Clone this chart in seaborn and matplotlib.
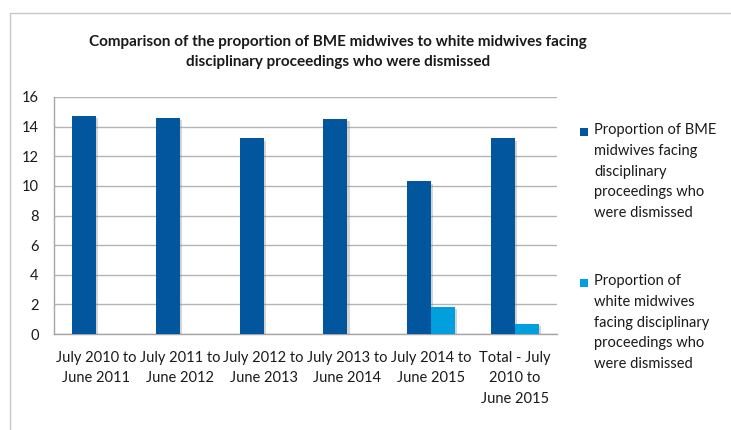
import matplotlib
matplotlib.use("Agg")
import matplotlib.pyplot as plt
import matplotlib.patheffects as pe
from matplotlib.patches import Rectangle
import pandas as pd
import seaborn as sns

periods = [
    "July 2010 to\nJune 2011",
    "July 2011 to\nJune 2012",
    "July 2012 to\nJune 2013",
    "July 2013 to\nJune 2014",
    "July 2014 to\nJune 2015",
    "Total - July\n2010 to\nJune 2015",
]
bme_dismissed = [14.7, 14.6, 13.2, 14.5, 10.3, 13.2]
white_dismissed = [None, None, None, None, 1.8, 0.7]
series_names = [
    "Proportion of BME\nmidwives facing\ndisciplinary\nproceedings who\nwere dismissed",
    "Proportion of\nwhite midwives\nfacing disciplinary\nproceedings who\nwere dismissed",
]
colors = ["#02569E", "#00A0DF"]
yticks = [0, 2, 4, 6, 8, 10, 12, 14, 16]
title = ("Comparison of the proportion of BME midwives to white midwives facing\n"
         "disciplinary proceedings who were dismissed")

rows = []
for p, b, w in zip(periods, bme_dismissed, white_dismissed):
    rows.append({"period": p, "series": series_names[0], "value": b})
    rows.append({"period": p, "series": series_names[1], "value": w})
df = pd.DataFrame(rows)

sns.set_theme(style="white")
plt.rcParams["font.family"] = ["Lato", "DejaVu Sans"]

W, H = 731, 430
fig = plt.figure(figsize=(W / 100, H / 100), dpi=100)
ax = fig.add_axes([54 / W, (H - 334) / H, (557 - 54) / W, (334 - 97) / H])

sns.barplot(data=df, x="period", y="value", hue="series", hue_order=series_names,
            palette=colors, width=0.573, gap=0, saturation=1, legend=False,
            ax=ax, zorder=3, edgecolor="none", linewidth=0)

for bar in ax.patches:
    bar.set_path_effects([pe.SimplePatchShadow(offset=(1.5, -1.5), shadow_rgbFace="#888888",
                                               alpha=0.35), pe.Normal()])

ax.set_ylim(0, 16)
ax.set_yticks(yticks)
ax.set_yticklabels([str(t) for t in yticks])
ax.set_xlim(-0.5, len(periods) - 0.5)
ax.grid(axis="y", color="#B4B4B4", linewidth=1.0, zorder=0)
ax.grid(axis="x", visible=False)
for side in ["top", "right"]:
    ax.spines[side].set_visible(False)
for side in ["left", "bottom"]:
    ax.spines[side].set_color("#A6A6A6")
    ax.spines[side].set_linewidth(1.0)
ax.set_xlabel("")
ax.set_ylabel("")
ax.tick_params(axis="both", length=0, labelsize=10.5, colors="#1A1A1A")
ax.tick_params(axis="y", pad=11)
ax.tick_params(axis="x", pad=12)
for lbl in ax.get_xticklabels():
    lbl.set_linespacing(1.62)
    lbl.set_verticalalignment("top")

fig.text(338 / W, 1 - 52 / H, title, ha="center", va="center", fontsize=11,
         fontweight="bold", color="#1A1A1A", linespacing=1.55)

# legend: square swatches next to wrapped labels
legend_rows = [132, 283]
for name, col, yrow in zip(series_names, colors, legend_rows):
    fig.add_artist(Rectangle((580 / W, 1 - (yrow + 4) / H), 8 / W, 8 / H,
                             transform=fig.transFigure, color=col, lw=0))
    fig.text(594 / W, 1 - (yrow - 9) / H, name, ha="left", va="top", fontsize=10.5,
             color="#1A1A1A", linespacing=1.62)

# outer chart frame
fig.add_artist(Rectangle((10 / W, -0.1), 1.2, 1 - 13 / H + 0.1, transform=fig.transFigure,
                         fill=False, edgecolor="#C8C8C8", linewidth=1.0))

fig.savefig("out.png", dpi=100)
